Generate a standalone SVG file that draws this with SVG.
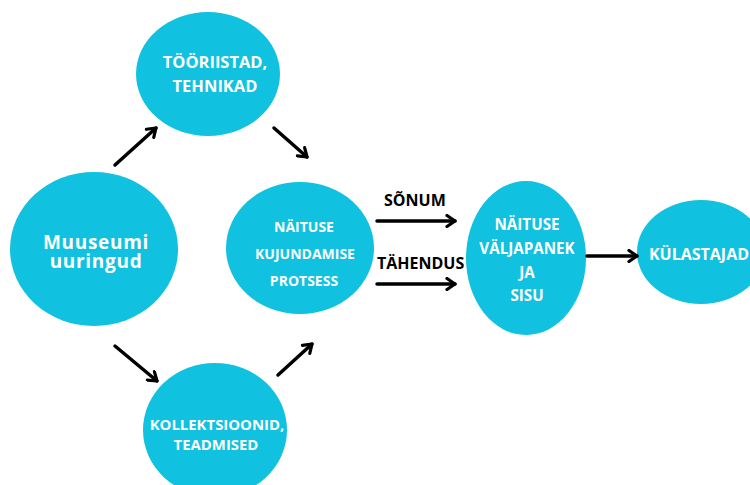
<svg xmlns="http://www.w3.org/2000/svg" width="750" height="485" viewBox="0 0 750 485">
  <style>
    .node { fill: #10c1e0; }
    .lbl { font-family: "Open Sans", "DejaVu Sans", sans-serif; font-weight: 700; fill: #ffffff; text-anchor: middle; }
    .tag { font-family: "Open Sans", "DejaVu Sans", sans-serif; font-weight: 700; fill: #000000; }
    .edge { stroke: #000000; stroke-width: 3.5; fill: none; stroke-linecap: round; marker-end: url(#head); }
  </style>
  <defs>
    <marker id="head" viewBox="0 0 14 14" refX="11" refY="7" markerWidth="14" markerHeight="14" markerUnits="userSpaceOnUse" orient="auto">
      <path d="M3,1.5 L11,7 L3,12.5" fill="none" stroke="#000000" stroke-width="3.2" stroke-linecap="round" stroke-linejoin="round"/>
    </marker>
  </defs>
  <rect width="750" height="485" fill="#ffffff"/>

  <g id="tooriistad">
    <ellipse class="node" cx="208" cy="74" rx="72" ry="62"/>
    <text class="lbl" font-size="16.5" x="215" y="68">TÖÖRIISTAD,</text>
    <text class="lbl" font-size="16.5" x="215" y="92">TEHNIKAD</text>
  </g>

  <g id="muuseumi">
    <ellipse class="node" cx="94" cy="249" rx="84" ry="77"/>
    <text class="lbl" font-size="19" letter-spacing="0.7" x="96" y="249">Muuseumi</text>
    <text class="lbl" font-size="19" letter-spacing="0.7" x="96" y="268">uuringud</text>
  </g>

  <g id="protsess">
    <ellipse class="node" cx="300" cy="248" rx="74" ry="66"/>
    <text class="lbl" font-size="14" x="304" y="232">NÄITUSE</text>
    <text class="lbl" font-size="14" x="305" y="259">KUJUNDAMISE</text>
    <text class="lbl" font-size="14" x="304" y="286">PROTSESS</text>
  </g>

  <g id="kollektsioonid">
    <ellipse class="node" cx="215" cy="430" rx="72" ry="67"/>
    <text class="lbl" font-size="14.9" x="217" y="430">KOLLEKTSIOONID,</text>
    <text class="lbl" font-size="14.9" x="216" y="450">TEADMISED</text>
  </g>

  <g id="valjapanek">
    <ellipse class="node" cx="526" cy="258" rx="60" ry="77"/>
    <text class="lbl" font-size="15.2" x="527" y="230">NÄITUSE</text>
    <text class="lbl" font-size="15.2" x="527" y="254">VÄLJAPANEK</text>
    <text class="lbl" font-size="15.2" x="527" y="278">JA</text>
    <text class="lbl" font-size="15.2" x="527" y="301">SISU</text>
  </g>

  <g id="kulastajad">
    <ellipse class="node" cx="701" cy="252" rx="64" ry="52"/>
    <text class="lbl" font-size="16" x="699" y="260">KÜLASTAJAD</text>
  </g>

  <g id="connectors">
    <line class="edge" x1="115" y1="165" x2="156" y2="128"/>
    <line class="edge" x1="274" y1="128" x2="307" y2="157"/>
    <line class="edge" x1="115" y1="346" x2="157" y2="381"/>
    <line class="edge" x1="278" y1="375" x2="312" y2="344"/>
    <line class="edge" x1="377" y1="221" x2="455" y2="221"/>
    <line class="edge" x1="377" y1="284" x2="455" y2="284"/>
    <line class="edge" x1="587" y1="256" x2="637" y2="256"/>
    <text class="tag" font-size="16" x="384" y="206">SÕNUM</text>
    <text class="tag" font-size="16" x="377" y="269">TÄHENDUS</text>
  </g>
</svg>
